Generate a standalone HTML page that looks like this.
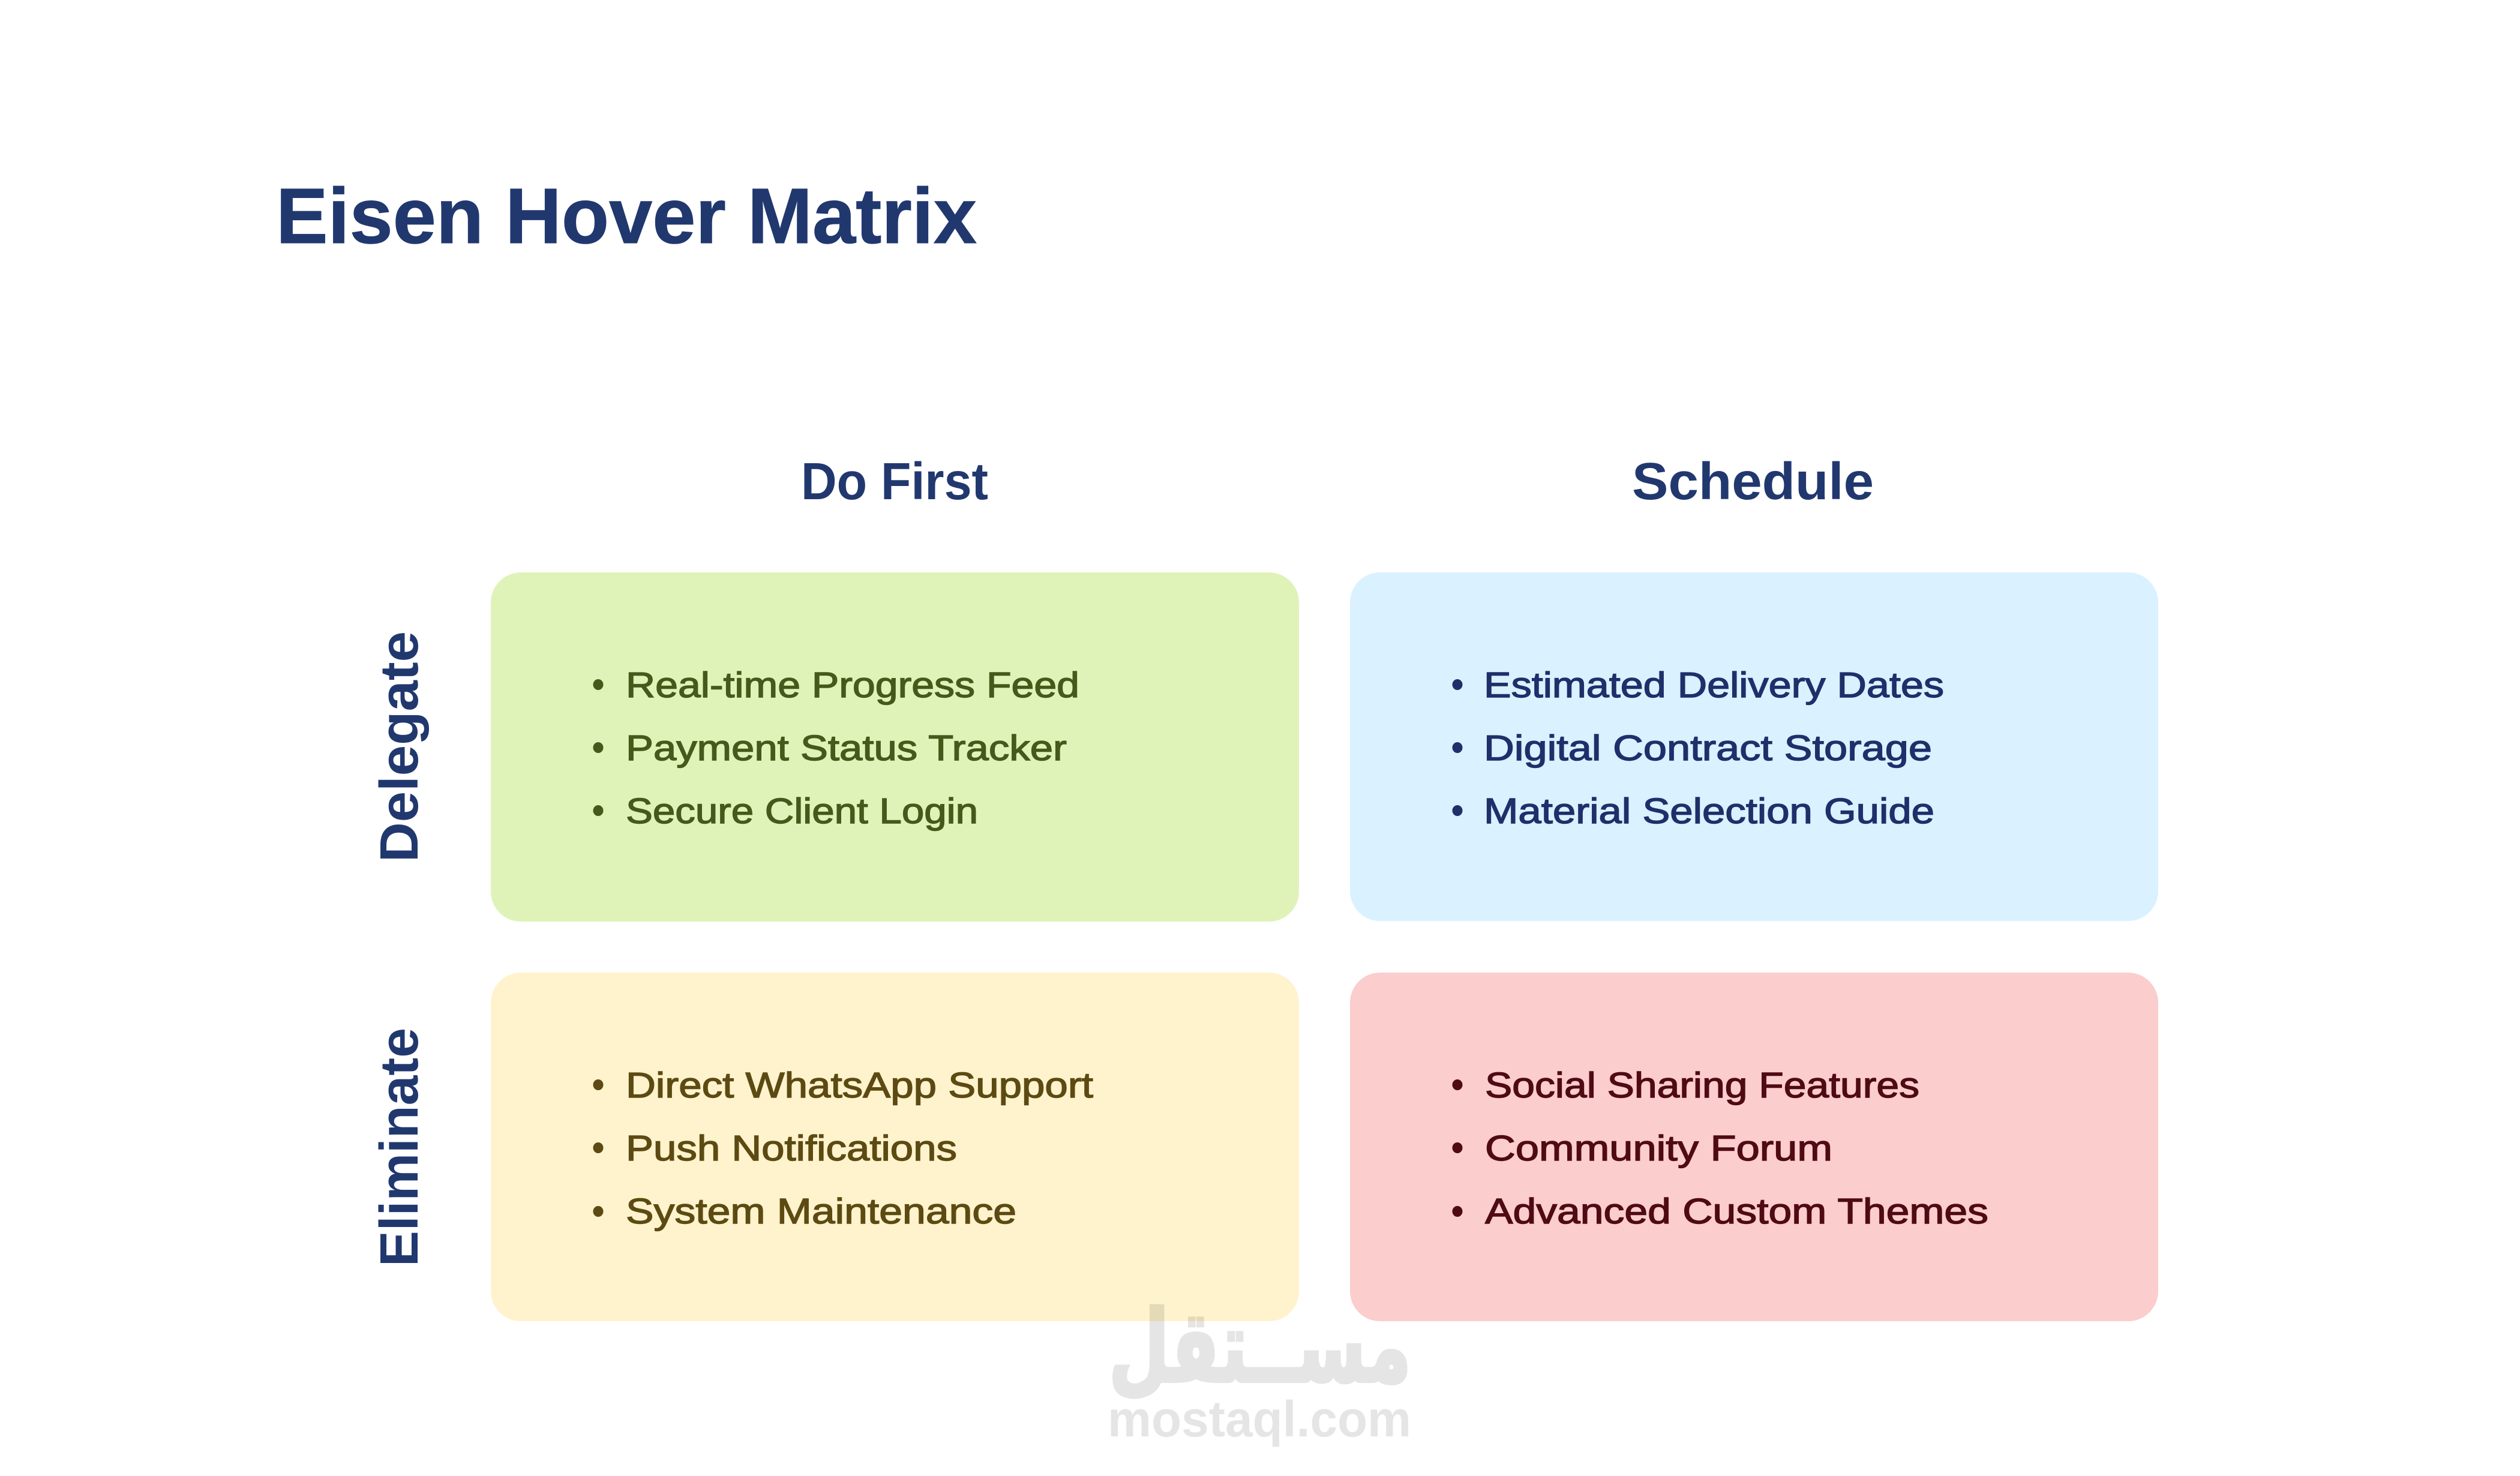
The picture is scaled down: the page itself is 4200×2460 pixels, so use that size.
<!DOCTYPE html>
<html><head><meta charset="utf-8"><title>Eisen Hover Matrix</title>
<style>
html,body{margin:0;padding:0;background:#fff;width:4200px;height:2460px;overflow:hidden}
svg{display:block}
text{font-family:"Liberation Sans",sans-serif}
.h{font-weight:700;fill:#21386f}
.i{font-size:59px;stroke-width:1.4px}
.g{fill:#44591a;stroke:#44591a}.b{fill:#1e2f6a;stroke:#1e2f6a}.y{fill:#5c4a12;stroke:#5c4a12}.r{fill:#4f0a12;stroke:#4f0a12}
.w{fill:#e5e5e5;mix-blend-mode:multiply}
</style></head><body>
<svg xmlns="http://www.w3.org/2000/svg" width="4200" height="2460" viewBox="0 0 4200 2460">
<rect width="4200" height="2460" fill="#fff"/>
<text class="h" x="460" y="405" font-size="131" textLength="1168" lengthAdjust="spacingAndGlyphs" stroke="#21386f" stroke-width="1">Eisen Hover Matrix</text>
<text class="h" x="1335" y="832" font-size="87" textLength="312" lengthAdjust="spacingAndGlyphs">Do First</text>
<text class="h" x="2720" y="832" font-size="87" textLength="403" lengthAdjust="spacingAndGlyphs">Schedule</text>
<text class="h" transform="translate(696,1437) rotate(-90)" font-size="90" textLength="385" lengthAdjust="spacingAndGlyphs">Delegate</text>
<text class="h" transform="translate(696,2111) rotate(-90)" font-size="90" textLength="398" lengthAdjust="spacingAndGlyphs">Eliminate</text>

<rect x="818" y="954" width="1347" height="582" rx="50" fill="#dff3b9"/>
<rect x="2250" y="954" width="1347" height="581" rx="50" fill="#daf1ff"/>
<rect x="818" y="1621" width="1347" height="581" rx="50" fill="#fef3cd"/>
<rect x="2250" y="1621" width="1347" height="581" rx="50" fill="#fbcdcd"/>

<g class="g">
<ellipse cx="997" cy="1141" rx="8" ry="8.5"/><ellipse cx="997" cy="1246" rx="8" ry="8.5"/><ellipse cx="997" cy="1351" rx="8" ry="8.5"/>
<text class="i" x="1043" y="1162" textLength="756" lengthAdjust="spacingAndGlyphs">Real-time Progress Feed</text>
<text class="i" x="1043" y="1267" textLength="735" lengthAdjust="spacingAndGlyphs">Payment Status Tracker</text>
<text class="i" x="1043" y="1372" textLength="587" lengthAdjust="spacingAndGlyphs">Secure Client Login</text>
</g>
<g class="b">
<ellipse cx="2429" cy="1141" rx="8" ry="8.5"/><ellipse cx="2429" cy="1246" rx="8" ry="8.5"/><ellipse cx="2429" cy="1351" rx="8" ry="8.5"/>
<text class="i" x="2473" y="1162" textLength="767" lengthAdjust="spacingAndGlyphs">Estimated Delivery Dates</text>
<text class="i" x="2473" y="1267" textLength="747" lengthAdjust="spacingAndGlyphs">Digital Contract Storage</text>
<text class="i" x="2473" y="1372" textLength="751" lengthAdjust="spacingAndGlyphs">Material Selection Guide</text>
</g>
<g class="y">
<ellipse cx="997" cy="1808" rx="8" ry="8.5"/><ellipse cx="997" cy="1913" rx="8" ry="8.5"/><ellipse cx="997" cy="2019" rx="8" ry="8.5"/>
<text class="i" x="1043" y="1829" textLength="779" lengthAdjust="spacingAndGlyphs">Direct WhatsApp Support</text>
<text class="i" x="1043" y="1934" textLength="552" lengthAdjust="spacingAndGlyphs">Push Notifications</text>
<text class="i" x="1043" y="2039" textLength="651" lengthAdjust="spacingAndGlyphs">System Maintenance</text>
</g>
<g class="r">
<ellipse cx="2429" cy="1808" rx="8" ry="8.5"/><ellipse cx="2429" cy="1913" rx="8" ry="8.5"/><ellipse cx="2429" cy="2019" rx="8" ry="8.5"/>
<text class="i" x="2475" y="1829" textLength="724" lengthAdjust="spacingAndGlyphs">Social Sharing Features</text>
<text class="i" x="2475" y="1934" textLength="579" lengthAdjust="spacingAndGlyphs">Community Forum</text>
<text class="i" x="2475" y="2039" textLength="839" lengthAdjust="spacingAndGlyphs">Advanced Custom Themes</text>
</g>

<text class="w" x="2352" y="2302" direction="rtl" font-size="165" font-weight="700" stroke="#e5e5e5" stroke-width="6" style="font-family:'DejaVu Sans',sans-serif" textLength="504" lengthAdjust="spacingAndGlyphs">مســتقل</text>
<text class="w" x="1846" y="2394" font-size="84" font-weight="700" textLength="506" lengthAdjust="spacingAndGlyphs">mostaql.com</text>
</svg>
</body></html>
